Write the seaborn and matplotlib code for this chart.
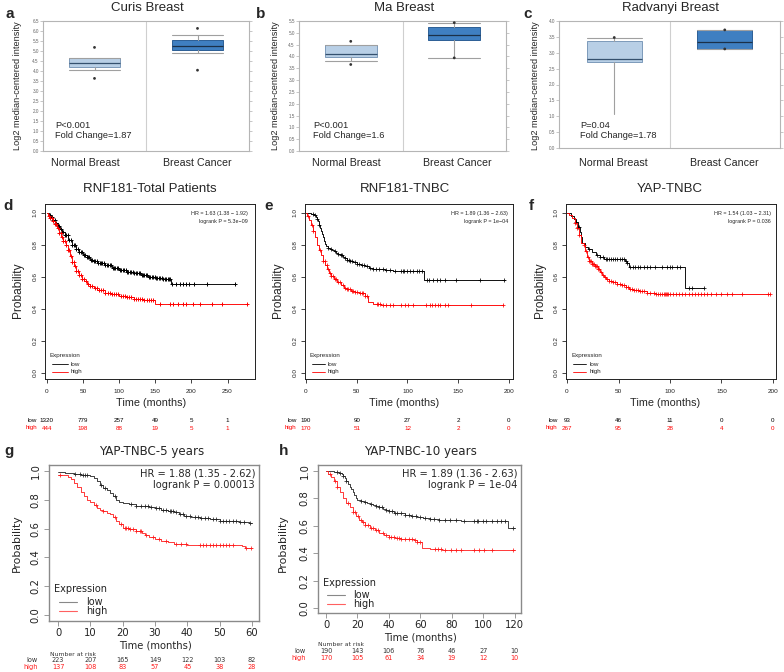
import numpy as np
import pandas as pd
import matplotlib
matplotlib.use("Agg")
import matplotlib.pyplot as plt
from matplotlib.lines import Line2D
import seaborn as sns

# ---------------- a-c : box statistics [lower whisker, Q1, median, Q3, upper whisker] ----------------
box_groups = ["Normal Breast", "Breast Cancer"]
curis_normal = [4.07, 4.20, 4.42, 4.67, 4.67]
curis_cancer = [4.92, 5.07, 5.23, 5.53, 5.78]
curis_normal_ext = [5.18, 3.63]
curis_cancer_ext = [6.13, 4.04]
ma_normal = [3.79, 3.97, 4.12, 4.47, 4.47]
ma_cancer = [3.95, 4.68, 4.90, 5.25, 5.43]
ma_normal_ext = [4.64, 3.66]
ma_cancer_ext = [5.43, 3.94]
radvanyi_normal = [1.08, 2.70, 2.80, 3.37, 3.48]
radvanyi_cancer = [3.12, 3.12, 3.33, 3.72, 3.72]
radvanyi_normal_ext = [3.48]
radvanyi_cancer_ext = [3.72, 3.12]

# ---------------- d : RNF181 total patients ----------------
d_low_t = [0, 3, 6, 9, 12, 15, 18, 21, 25, 30, 35, 40, 45, 50, 55, 60, 65, 70, 80, 90, 100, 110, 120, 130,
           140, 150, 160, 172, 260]
d_low_s = [1.0, 0.985, 0.97, 0.955, 0.935, 0.915, 0.9, 0.88, 0.86, 0.83, 0.8, 0.775, 0.755, 0.735, 0.72,
           0.705, 0.695, 0.685, 0.67, 0.655, 0.64, 0.63, 0.62, 0.61, 0.6, 0.592, 0.585, 0.552, 0.552]
d_low_cens = [4, 7, 9, 11, 13, 15, 17, 19, 21, 23, 25, 27, 29, 31, 33, 35, 37, 39, 41, 43, 45, 47, 49, 51,
              53, 55, 57, 59, 61, 63, 65, 67, 69, 71, 73, 75, 77, 79, 81, 83, 85, 87, 89, 91, 93, 95, 97,
              99, 101, 103, 105, 107, 109, 111, 113, 115, 117, 119, 121, 123, 125, 127, 129, 131, 133, 135,
              137, 139, 141, 143, 145, 147, 149, 151, 153, 155, 157, 159, 161, 163, 165, 167, 169, 171,
              173, 179, 184, 188, 192, 197, 203, 221, 260]
d_high_t = [0, 2, 5, 8, 11, 14, 17, 20, 23, 26, 29, 32, 35, 38, 41, 44, 48, 52, 56, 60, 65, 70, 80, 90, 100,
            110, 120, 135, 149, 277]
d_high_s = [1.0, 0.98, 0.965, 0.95, 0.93, 0.905, 0.875, 0.85, 0.825, 0.8, 0.765, 0.73, 0.69, 0.665, 0.635,
            0.61, 0.585, 0.57, 0.555, 0.54, 0.53, 0.515, 0.5, 0.49, 0.48, 0.47, 0.462, 0.455, 0.43, 0.43]
d_high_cens = [3, 5, 7, 9, 11, 13, 15, 17, 19, 21, 23, 25, 27, 29, 31, 33, 35, 37, 39, 41, 43, 45, 47, 49,
               51, 54, 57, 60, 63, 66, 69, 72, 75, 78, 81, 84, 87, 90, 93, 96, 99, 102, 105, 108, 111, 114,
               117, 120, 123, 126, 129, 132, 135, 138, 141, 144, 147, 156, 170, 175, 182, 188, 193, 202,
               212, 228, 242, 277]
d_months = [0, 50, 100, 150, 200, 250]
d_risk_low = [1320, 779, 257, 49, 5, 1]
d_risk_high = [444, 198, 88, 19, 5, 1]

# ---------------- e / h : RNF181 TNBC (same cohort; h is truncated at 120 months) ----------------
tnbc_low_t = [0, 5, 8, 10, 11, 12, 13, 14, 15, 16, 17, 18, 19, 20, 22, 24, 26, 28, 30, 32, 34, 36, 38, 40,
              43, 46, 50, 54, 58, 62, 66, 72, 78, 86, 116, 196]
tnbc_low_s = [1.0, 0.99, 0.985, 0.975, 0.96, 0.945, 0.925, 0.905, 0.885, 0.865, 0.845, 0.825, 0.805, 0.79,
              0.78, 0.77, 0.765, 0.76, 0.75, 0.74, 0.735, 0.725, 0.715, 0.705, 0.695, 0.69, 0.68, 0.672,
              0.665, 0.655, 0.65, 0.645, 0.64, 0.635, 0.58, 0.58]
tnbc_low_cens = [7, 9, 11, 13, 22, 25, 28.5, 32, 34, 35.7, 38, 40, 42, 43.6, 45, 48, 50, 52.5, 54.8, 57, 60,
                 63, 66, 69, 72, 76, 79, 83, 88, 94, 96, 97, 99.7, 102, 105.6, 109, 111.5, 114, 119, 121.6,
                 125.6, 128.9, 132, 137, 148, 171, 195]
tnbc_high_t = [0, 1, 3, 5, 7, 9, 11, 13, 15, 17, 19, 21, 23, 25, 28, 31, 34, 37, 40, 44, 48, 52, 56, 58, 61,
               66, 74, 194]
tnbc_high_s = [1.0, 0.98, 0.955, 0.925, 0.885, 0.845, 0.8, 0.765, 0.735, 0.7, 0.67, 0.645, 0.625, 0.605,
               0.585, 0.565, 0.545, 0.53, 0.52, 0.51, 0.505, 0.5, 0.495, 0.48, 0.44, 0.43, 0.42, 0.42]
tnbc_high_cens = [2.3, 5.6, 7.2, 13.8, 17, 18.7, 20.3, 22, 23.6, 25, 27, 28.5, 30, 31.8, 33.4, 36, 38, 40,
                  41.6, 43, 45, 46.6, 48, 50, 53, 54.8, 56.4, 58, 59.7, 69.5, 71, 73.4, 76, 79.3, 82.6, 86,
                  94, 97.4, 100.6, 105.6, 118.7, 122, 124.6, 127, 130, 132.5, 137, 140, 163, 194]
e_months = [0, 50, 100, 150, 200]
e_risk_low = [190, 90, 27, 2, 0]
e_risk_high = [170, 51, 12, 2, 0]
h_months = [0, 20, 40, 60, 80, 100, 120]
h_risk_low = [190, 143, 106, 76, 46, 27, 10]
h_risk_high = [170, 105, 61, 34, 19, 12, 10]

# ---------------- f : YAP TNBC ----------------
f_low_t = [0, 4, 7, 9, 11, 13, 14, 15, 17, 20, 24, 28, 32, 36, 56, 58, 60, 115, 133]
f_low_s = [1.0, 0.98, 0.96, 0.94, 0.91, 0.88, 0.85, 0.81, 0.785, 0.77, 0.755, 0.735, 0.72, 0.71, 0.70,
           0.685, 0.66, 0.53, 0.53]
f_low_cens = [9, 11, 11.7, 21.5, 28.7, 32, 35, 37.8, 39, 41, 42.4, 45, 46.6, 49, 51.5, 53, 55, 56.8, 58,
              61.3, 64, 66, 68.5, 71, 74.4, 77.6, 81, 85.8, 92, 97, 100.4, 102, 107, 110, 118, 121, 133]
f_high_t = [0, 2, 5, 8, 10, 12, 14, 16, 17.5, 19, 21, 24, 27, 30, 32, 34, 36, 38, 41, 45, 49, 53, 57, 60,
            64, 70, 78, 86, 197]
f_high_s = [1.0, 0.985, 0.965, 0.935, 0.905, 0.86, 0.81, 0.8, 0.76, 0.72, 0.695, 0.68, 0.665, 0.645, 0.63,
            0.61, 0.595, 0.585, 0.575, 0.565, 0.555, 0.545, 0.535, 0.525, 0.515, 0.51, 0.5, 0.493, 0.493]
f_high_cens = [8, 10, 12, 16, 18, 20, 21, 22, 23, 24, 25, 26, 27, 28, 29, 30, 31, 33, 35, 37, 39, 41, 43, 45,
               47, 49, 51, 53, 55, 57, 59, 61, 63, 65, 67, 69, 71, 73, 75, 78, 81, 84, 86, 88, 90, 92, 94,
               95, 96, 97, 98, 100, 103, 106, 109, 112, 115, 118, 121, 124, 127, 130, 133, 136, 140, 145,
               150, 155, 160, 170, 195, 197]
f_months = [0, 50, 100, 150, 200]
f_risk_low = [93, 46, 11, 0, 0]
f_risk_high = [267, 95, 28, 4, 0]

# ---------------- g : YAP TNBC 5 years ----------------
g_low_t = [0, 2, 5, 7, 9, 10, 11, 12, 13, 14, 15, 16, 17, 18, 19, 20, 22, 24, 26, 28, 30, 32, 34, 36, 37.5,
           39, 41, 44, 47, 50, 53, 56, 59, 60]
g_low_s = [0.99, 0.985, 0.98, 0.975, 0.97, 0.965, 0.955, 0.93, 0.9, 0.88, 0.865, 0.845, 0.825, 0.8, 0.785,
           0.775, 0.77, 0.76, 0.755, 0.75, 0.74, 0.73, 0.725, 0.715, 0.7, 0.685, 0.68, 0.675, 0.665, 0.655,
           0.65, 0.645, 0.64, 0.64]
g_low_cens = [5.2, 6.7, 7.7, 8.2, 9, 13.4, 14.4, 17.5, 22.7, 24.2, 25.8, 26.8, 27.8, 28.9, 30.4, 31.4, 32.5,
              33.5, 34.5, 35, 35.6, 36.4, 37.6, 38.7, 39.7, 40.7, 42.3, 43.3, 44.3, 45.4, 46.4, 47.9, 49,
              50, 51, 52, 53, 54, 55.2, 56.2, 57.7, 59.3]
g_high_t = [0, 3, 4, 5, 6, 7, 8, 9, 10, 11, 12, 13, 14, 15, 16, 17, 18, 19, 20, 22, 24, 26, 27, 28, 30, 32,
            34, 36, 38, 40, 57, 58, 60]
g_high_s = [0.97, 0.96, 0.945, 0.92, 0.89, 0.855, 0.825, 0.8, 0.785, 0.765, 0.745, 0.73, 0.72, 0.71, 0.7,
            0.68, 0.655, 0.63, 0.605, 0.595, 0.585, 0.57, 0.555, 0.54, 0.525, 0.515, 0.505, 0.495, 0.49,
            0.485, 0.48, 0.465, 0.465]
g_high_cens = [0.5, 11.9, 14, 17.5, 19.6, 20.6, 21.1, 21.6, 22.2, 23.2, 24.2, 25.3, 25.8, 27.3, 29.4, 31.4,
               33.5, 36.6, 38, 39.7, 43.8, 44.8, 45.9, 46.9, 48, 49, 50, 51, 52, 53, 54, 58.2, 59.8]
g_months = [0, 10, 20, 30, 40, 50, 60]
g_risk_low = [223, 207, 165, 149, 122, 103, 82]
g_risk_high = [137, 108, 83, 57, 45, 38, 28]

# ====================================================================================
sns.set_theme(style="white")
plt.rcParams["font.family"] = ["Liberation Sans", "DejaVu Sans"]
ARIAL = ["Liberation Sans", "DejaVu Sans"]
DEJAVU = ["DejaVu Sans"]

W, H = 784, 672
fig = plt.figure(figsize=(W / 100, H / 100), dpi=100)
fig.patch.set_facecolor("white")


def rect(l, t, r, b):
    return [l / W, 1 - b / H, (r - l) / W, (b - t) / H]


def ftext(x, y, s, **kw):
    kw.setdefault("va", "center")
    kw.setdefault("ha", "center")
    fig.text(x / W, 1 - y / H, s, **kw)


def fline(x0, x1, y, color, lw):
    fig.add_artist(Line2D([x0 / W, x1 / W], [1 - y / H, 1 - y / H], color=color, lw=lw,
                          transform=fig.transFigure))


# ---------------- box panels ----------------
NORMAL_FC, NORMAL_EC, NORMAL_MED = "#b8cfe6", "#7d9aba", "#34506e"
CANCER_FC, CANCER_EC, CANCER_MED = "#3f7fc1", "#2c5f95", "#1b3048"


def box_panel(px, normal, cancer, normal_ext, cancer_ext, ytop, hide_low_cap=False):
    ax = fig.add_axes(rect(*px))
    stats = [dict(whislo=v[0], q1=v[1], med=v[2], q3=v[3], whishi=v[4], fliers=[]) for v in (normal, cancer)]
    bp = ax.bxp(stats, positions=[0, 1], widths=0.5, capwidths=0.5, patch_artist=True, showfliers=False,
                boxprops=dict(lw=0.7), medianprops=dict(lw=0.9),
                whiskerprops=dict(color="#a0a0a0", lw=0.8), capprops=dict(color="#a0a0a0", lw=0.8))
    for patch, fc, ec in zip(bp["boxes"], [NORMAL_FC, CANCER_FC], [NORMAL_EC, CANCER_EC]):
        patch.set_facecolor(fc)
        patch.set_edgecolor(ec)
    for med, col in zip(bp["medians"], [NORMAL_MED, CANCER_MED]):
        med.set_color(col)
    if hide_low_cap:
        bp["caps"][0].set_visible(False)
    xs = [0] * len(normal_ext) + [1] * len(cancer_ext)
    sns.scatterplot(x=xs, y=list(normal_ext) + list(cancer_ext), s=4, color="#333333", edgecolor="none",
                    ax=ax, zorder=5)
    ax.axvline(0.5, color="#cfcfcf", lw=0.8, zorder=0)
    ax.set_xlim(-0.5, 1.5)
    ax.set_ylim(0, ytop)
    ax.set_xticks([])
    yt = np.arange(0, ytop + 0.001, 0.5)
    ax.set_yticks(yt)
    ax.set_yticklabels([f"{v:.1f}" for v in yt])
    ax.tick_params(axis="y", left=True, right=True, direction="out", length=2, width=0.5, color="#b0b0b0",
                   labelsize=3.3, labelcolor="#666666", pad=1)
    for sp in ax.spines.values():
        sp.set_color("#b5b5b5")
        sp.set_linewidth(0.8)
    ax.set_xlabel("")
    ax.set_ylabel("")
    return ax


box_specs = [
    dict(px=(43, 21, 249, 151), data=(curis_normal, curis_cancer, curis_normal_ext, curis_cancer_ext), top=6.5,
         title="Curis Breast", tx=147, letter="a", lx=10, ylx=18, ply=(55, "P<0.001", "Fold Change=1.87"),
         cat=(85, 197), hide=False),
    dict(px=(299, 21, 506, 151), data=(ma_normal, ma_cancer, ma_normal_ext, ma_cancer_ext), top=5.5,
         title="Ma Breast", tx=404, letter="b", lx=261, ylx=275, ply=(313, "P<0.001", "Fold Change=1.6"),
         cat=(346, 457), hide=False),
    dict(px=(559, 21, 780, 148), data=(radvanyi_normal, radvanyi_cancer, radvanyi_normal_ext, radvanyi_cancer_ext),
         top=4.0, title="Radvanyi Breast", tx=671, letter="c", lx=528, ylx=535,
         ply=(580, "P=0.04", "Fold Change=1.78"), cat=(613, 724), hide=True),
]
for spec in box_specs:
    box_panel(spec["px"], *spec["data"], spec["top"], hide_low_cap=spec["hide"])
    ftext(spec["tx"], 8, spec["title"], fontsize=9.5, family=ARIAL)
    ftext(spec["lx"], 14, spec["letter"], fontsize=11, fontweight="bold", family=ARIAL)
    ftext(spec["ylx"], 86, "Log2 median-centered intensity", fontsize=6.6, rotation=90, family=ARIAL)
    px_, p, fc = spec["ply"]
    ftext(px_, 125, p, fontsize=6.7, ha="left", family=ARIAL)
    ftext(px_, 136, fc, fontsize=6.7, ha="left", family=ARIAL)
    for cx, lab in zip(spec["cat"], box_groups):
        ftext(cx, 163, lab, fontsize=7.7, family=ARIAL)


# ---------------- KM helpers ----------------
def km_curve(ax, t, s, cens, color, lw, ms, mew, tmax=None):
    t = np.asarray(t, float)
    s = np.asarray(s, float)
    c = np.asarray(cens, float)
    if tmax is not None:
        keep = t <= tmax
        last = s[keep][-1]
        t = np.append(t[keep], tmax)
        s = np.append(s[keep], last)
        c = c[c <= tmax]
    df = pd.DataFrame({"time": t, "surv": s})
    sns.lineplot(data=df, x="time", y="surv", drawstyle="steps-post", color=color, lw=lw,
                 estimator=None, sort=False, ax=ax)
    idx = np.searchsorted(t, c, side="right") - 1
    ax.plot(c, s[idx], linestyle="none", marker="+", ms=ms, mew=mew, color=color, mec=color)


def km_axes(px, xlim, ylim, xticks, family, spine_col, spine_lw, lab_size, xpad, ypad, tick_len, lab_col):
    ax = fig.add_axes(rect(*px))
    ax.set_xlim(*xlim)
    ax.set_ylim(*ylim)
    ax.set_xticks(xticks)
    ax.set_xticklabels([str(v) for v in xticks], family=family)
    yt = [0.0, 0.2, 0.4, 0.6, 0.8, 1.0]
    ax.set_yticks(yt)
    ax.set_yticklabels([f"{v:.1f}" for v in yt], family=family, rotation=90, va="center")
    ax.tick_params(axis="both", bottom=True, left=True, direction="out", length=tick_len, width=0.6,
                   color=spine_col, labelsize=lab_size, labelcolor=lab_col)
    ax.tick_params(axis="x", pad=xpad)
    ax.tick_params(axis="y", pad=ypad)
    for sp in ax.spines.values():
        sp.set_color(spine_col)
        sp.set_linewidth(spine_lw)
    return ax


def finish(ax):
    ax.set_xlabel("")
    ax.set_ylabel("")
    if ax.get_legend() is not None:
        ax.get_legend().remove()


# ---------------- d, e, f ----------------
RED = "#ff0000"
mid_specs = [
    dict(px=(45, 204, 255, 379), xlim=(-2.5, 288), xticks=[0, 50, 100, 150, 200, 250],
         curves=[(d_low_t, d_low_s, d_low_cens, "black"), (d_high_t, d_high_s, d_high_cens, RED)],
         title="RNF181-Total Patients", tx=150, letter="d", lx=8, ylx=18, xlx=151, hrx=248,
         hr=("HR = 1.63 (1.38 \u2212 1.92)", "logrank P = 5.3e\u221209"), ms=3.4, mew=0.7,
         leg=(50, 52, 68, 71), months=d_months, rl=d_risk_low, rh=d_risk_high),
    dict(px=(305, 204, 513, 379), xlim=(-1, 204), xticks=[0, 50, 100, 150, 200],
         curves=[(tnbc_low_t, tnbc_low_s, tnbc_low_cens, "black"),
                 (tnbc_high_t, tnbc_high_s, tnbc_high_cens, RED)],
         title="RNF181-TNBC", tx=405, letter="e", lx=269, ylx=278, xlx=404, hrx=508,
         hr=("HR = 1.89 (1.36 \u2212 2.63)", "logrank P = 1e\u221204"), ms=2.8, mew=0.55,
         leg=(309, 312, 325, 328), months=e_months, rl=e_risk_low, rh=e_risk_high),
    dict(px=(566, 204, 776, 379), xlim=(-1, 203), xticks=[0, 50, 100, 150, 200],
         curves=[(f_low_t, f_low_s, f_low_cens, "black"), (f_high_t, f_high_s, f_high_cens, RED)],
         title="YAP-TNBC", tx=670, letter="f", lx=531, ylx=540, xlx=665, hrx=771,
         hr=("HR = 1.54 (1.03 \u2212 2.31)", "logrank P = 0.036"), ms=2.8, mew=0.55,
         leg=(571, 573, 586, 590), months=f_months, rl=f_risk_low, rh=f_risk_high),
]
for spec in mid_specs:
    ax = km_axes(spec["px"], spec["xlim"], (-0.04, 1.054), spec["xticks"], ARIAL, "#222222", 0.7, 4.6,
                 4.5, 2.4, 3.0, "#222222")
    for t, s, c, col in spec["curves"]:
        km_curve(ax, t, s, c, col, 0.65, spec["ms"], spec["mew"])
    finish(ax)
    ftext(spec["tx"], 189, spec["title"], fontsize=9.5, family=ARIAL)
    ftext(spec["lx"], 206, spec["letter"], fontsize=11, fontweight="bold", family=ARIAL)
    ftext(spec["ylx"], 290, "Probability", fontsize=8.6, rotation=90, family=ARIAL)
    ftext(spec["xlx"], 403, "Time (months)", fontsize=7.8, family=ARIAL)
    ftext(spec["hrx"], 214, spec["hr"][0], fontsize=3.9, ha="right", family=ARIAL)
    ftext(spec["hrx"], 222, spec["hr"][1], fontsize=3.9, ha="right", family=ARIAL)
    lt, l0, l1, lx = spec["leg"]
    ftext(lt, 355, "Expression", fontsize=4.5, ha="left", family=ARIAL)
    fline(l0, l1, 364, "black", 0.6)
    fline(l0, l1, 372, RED, 0.6)
    ftext(lx, 364, "low", fontsize=4.5, ha="left", family=ARIAL)
    ftext(lx, 372, "high", fontsize=4.5, ha="left", family=ARIAL)
    # number at risk
    l, t_, r, b = spec["px"]
    x0, x1 = spec["xlim"]
    to_px = lambda m: l + (m - x0) / (x1 - x0) * (r - l)
    for m, vl, vh in zip(spec["months"], spec["rl"], spec["rh"]):
        ftext(to_px(m), 420, str(vl), fontsize=4.5, family=ARIAL, color="black")
        ftext(to_px(m), 428, str(vh), fontsize=4.5, family=ARIAL, color=RED)
    ftext(to_px(0) - 9.5, 420, "low", fontsize=4.5, ha="right", family=ARIAL, color="black")
    ftext(to_px(0) - 9.5, 428, "high", fontsize=4.5, ha="right", family=ARIAL, color=RED)

# ---------------- g, h ----------------
RED2 = "#ff1a1a"
bot_specs = [
    dict(px=(49, 465, 259, 621), xlim=(-2.8, 62.2), ylim=(-0.042, 1.042), xticks=g_months,
         curves=[(g_low_t, g_low_s, g_low_cens, "#222222"), (g_high_t, g_high_s, g_high_cens, RED2)],
         tmax=None, title="YAP-TNBC-5 years", tx=152, letter="g", lx=9, ylx=17, xlx=155, xly=645,
         hrx=255, hr=("HR = 1.88 (1.35 - 2.62)", "logrank P = 0.00013"),
         leg=(54, 589, 59, 77, 86, 602, 611), nar=(50, 654, 660, 667), months=g_months,
         rl=g_risk_low, rh=g_risk_high),
    dict(px=(318, 465, 521, 613), xlim=(-5.1, 124.1), ylim=(-0.036, 1.042), xticks=h_months,
         curves=[(tnbc_low_t, tnbc_low_s, tnbc_low_cens, "#222222"),
                 (tnbc_high_t, tnbc_high_s, tnbc_high_cens, RED2)],
         tmax=120, title="YAP-TNBC-10 years", tx=420, letter="h", lx=284, ylx=283, xlx=420, xly=637,
         hrx=517, hr=("HR = 1.89 (1.36 - 2.63)", "logrank P = 1e-04"),
         leg=(323, 583, 327, 345, 353, 595, 604), nar=(318, 645, 651, 658), months=h_months,
         rl=h_risk_low, rh=h_risk_high),
]
for spec in bot_specs:
    ax = km_axes(spec["px"], spec["xlim"], spec["ylim"], spec["xticks"], DEJAVU, "#8a8a8a", 1.0, 7.2,
                 1.5, 2.5, 3.5, "#222222")
    for t, s, c, col in spec["curves"]:
        km_curve(ax, t, s, c, col, 0.6, 3.0, 0.55, tmax=spec["tmax"])
    finish(ax)
    ftext(spec["tx"], 452, spec["title"], fontsize=8.6, family=DEJAVU)
    ftext(spec["lx"], 451, spec["letter"], fontsize=11, fontweight="bold", family=ARIAL)
    ftext(spec["ylx"], 543, "Probability", fontsize=7.8, rotation=90, family=DEJAVU)
    ftext(spec["xlx"], spec["xly"], "Time (months)", fontsize=7.2, family=DEJAVU)
    ftext(spec["hrx"], 474, spec["hr"][0], fontsize=7.1, ha="right", family=DEJAVU)
    ftext(spec["hrx"], 485, spec["hr"][1], fontsize=7.1, ha="right", family=DEJAVU)
    tx_, ty_, l0, l1, lx, yl, yh = spec["leg"]
    ftext(tx_, ty_, "Expression", fontsize=7.0, ha="left", family=DEJAVU, color="#222222")
    fline(l0, l1, yl, "#888888", 0.8)
    fline(l0, l1, yh, "#ff6060", 0.8)
    ftext(lx, yl, "low", fontsize=7.0, ha="left", family=DEJAVU, color="#222222")
    ftext(lx, yh, "high", fontsize=7.0, ha="left", family=DEJAVU, color="#222222")
    nx, ny, ryl, ryh = spec["nar"]
    ftext(nx, ny, "Number at risk", fontsize=4.4, ha="left", family=DEJAVU, color="#333333")
    l, t_, r, b = spec["px"]
    x0, x1 = spec["xlim"]
    to_px = lambda m: l + (m - x0) / (x1 - x0) * (r - l)
    for m, vl, vh in zip(spec["months"], spec["rl"], spec["rh"]):
        ftext(to_px(m), ryl, str(vl), fontsize=4.7, family=DEJAVU, color="#333333")
        ftext(to_px(m), ryh, str(vh), fontsize=4.7, family=DEJAVU, color=RED2)
    ftext(to_px(0) - 20, ryl, "low", fontsize=4.7, ha="right", family=DEJAVU, color="#333333")
    ftext(to_px(0) - 20, ryh, "high", fontsize=4.7, ha="right", family=DEJAVU, color=RED2)

fig.savefig("out.png", dpi=100, facecolor="white")
